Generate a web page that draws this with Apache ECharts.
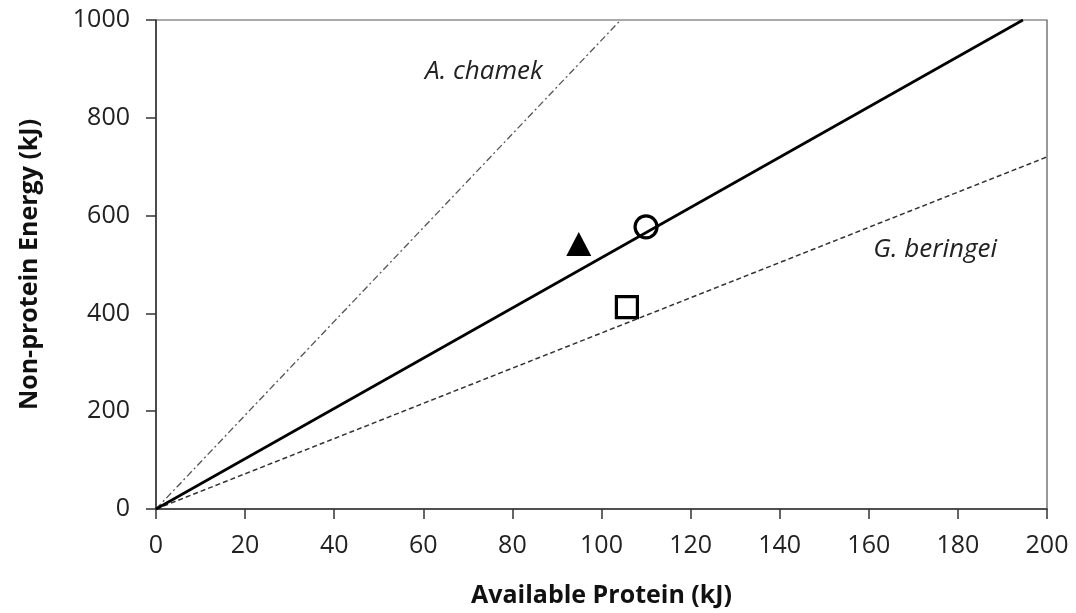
<!DOCTYPE html>
<html>
<head>
<meta charset="utf-8">
<script src="https://cdn.jsdelivr.net/npm/echarts@6/dist/echarts.min.js"></script>
<style>
  html, body { margin: 0; padding: 0; background: #fff; }
  #chart { width: 1076px; height: 613px; }
</style>
</head>
<body>
<div id="chart"></div>
<script>
// Intake-target lines through the origin: [protein, energy] end points
const overallLine = [[0, 0], [194.6, 1000]];
const chamekLine = [[0, 0], [104.3, 1000]];
const beringeiLine = [[0, 0], [200, 720]];

// Observed intakes
const trianglePoint = [[94.9, 542]];
const circlePoint = [[110.0, 577]];
const squarePoint = [[105.7, 413]];

// Species labels and their anchor positions
const speciesNames = ['A. chamek', 'G. beringei'];
const speciesLabelPos = [[73.6, 894], [174.9, 530]];

const xTicks = [0, 20, 40, 60, 80, 100, 120, 140, 160, 180, 200];
const yTicks = [0, 200, 400, 600, 800, 1000];

const font = 'Open Sans';
const chart = echarts.init(document.getElementById('chart'));

const tickStyle = { show: true, inside: false, length: 10, lineStyle: { color: '#333', width: 1.5 } };

chart.setOption({
  backgroundColor: '#ffffff',
  animation: false,
  grid: {
    left: 156, right: 29, top: 20, bottom: 104,
    show: true, borderColor: '#555', borderWidth: 1.2
  },
  xAxis: {
    type: 'value',
    min: xTicks[0], max: xTicks[xTicks.length - 1], interval: 20,
    name: 'Available Protein (kJ)',
    nameLocation: 'middle', nameGap: 74,
    nameTextStyle: { fontFamily: font, fontSize: 25, fontWeight: 'bold', color: '#111' },
    axisLine: { show: true, onZero: false, lineStyle: { color: '#333', width: 1.5 } },
    axisTick: tickStyle,
    axisLabel: { margin: 24, fontFamily: font, fontSize: 25, color: '#222', formatter: v => String(v) },
    splitLine: { show: false }
  },
  yAxis: {
    type: 'value',
    min: yTicks[0], max: yTicks[yTicks.length - 1], interval: 200,
    name: 'Non-protein Energy (kJ)',
    nameLocation: 'middle', nameGap: 114,
    nameTextStyle: { fontFamily: font, fontSize: 25, fontWeight: 'bold', color: '#111' },
    axisLine: { show: true, onZero: false, lineStyle: { color: '#333', width: 1.5 } },
    axisTick: tickStyle,
    axisLabel: { margin: 26, fontFamily: font, fontSize: 25, color: '#222', formatter: v => String(v) },
    splitLine: { show: false }
  },
  series: [
    {
      type: 'line', data: chamekLine, symbol: 'none', silent: true,
      lineStyle: { color: '#555', width: 1.3, type: [7, 3, 2, 3] }
    },
    {
      type: 'line', data: beringeiLine, symbol: 'none', silent: true,
      lineStyle: { color: '#333', width: 1.5, type: [5, 3] }
    },
    {
      type: 'line', data: overallLine, symbol: 'none', silent: true,
      lineStyle: { color: '#000', width: 2.6 }
    },
    {
      type: 'scatter', data: trianglePoint, symbol: 'triangle', symbolSize: [25, 24],
      itemStyle: { color: '#000', opacity: 1 }
    },
    {
      type: 'scatter', data: circlePoint, symbol: 'circle', symbolSize: 22,
      itemStyle: { color: '#fff', borderColor: '#000', borderWidth: 3.2, opacity: 1 }
    },
    {
      type: 'scatter', data: squarePoint, symbol: 'rect', symbolSize: 21,
      itemStyle: { color: '#fff', borderColor: '#000', borderWidth: 3.2, opacity: 1 }
    },
    {
      type: 'scatter', symbolSize: 0, silent: true,
      itemStyle: { opacity: 1 },
      data: speciesLabelPos.map((p, i) => ({ value: p, name: speciesNames[i] })),
      label: {
        show: true, position: 'inside', formatter: '{b}',
        fontFamily: font, fontSize: 26, fontStyle: 'italic', color: '#222'
      }
    }
  ]
});
</script>
</body>
</html>
